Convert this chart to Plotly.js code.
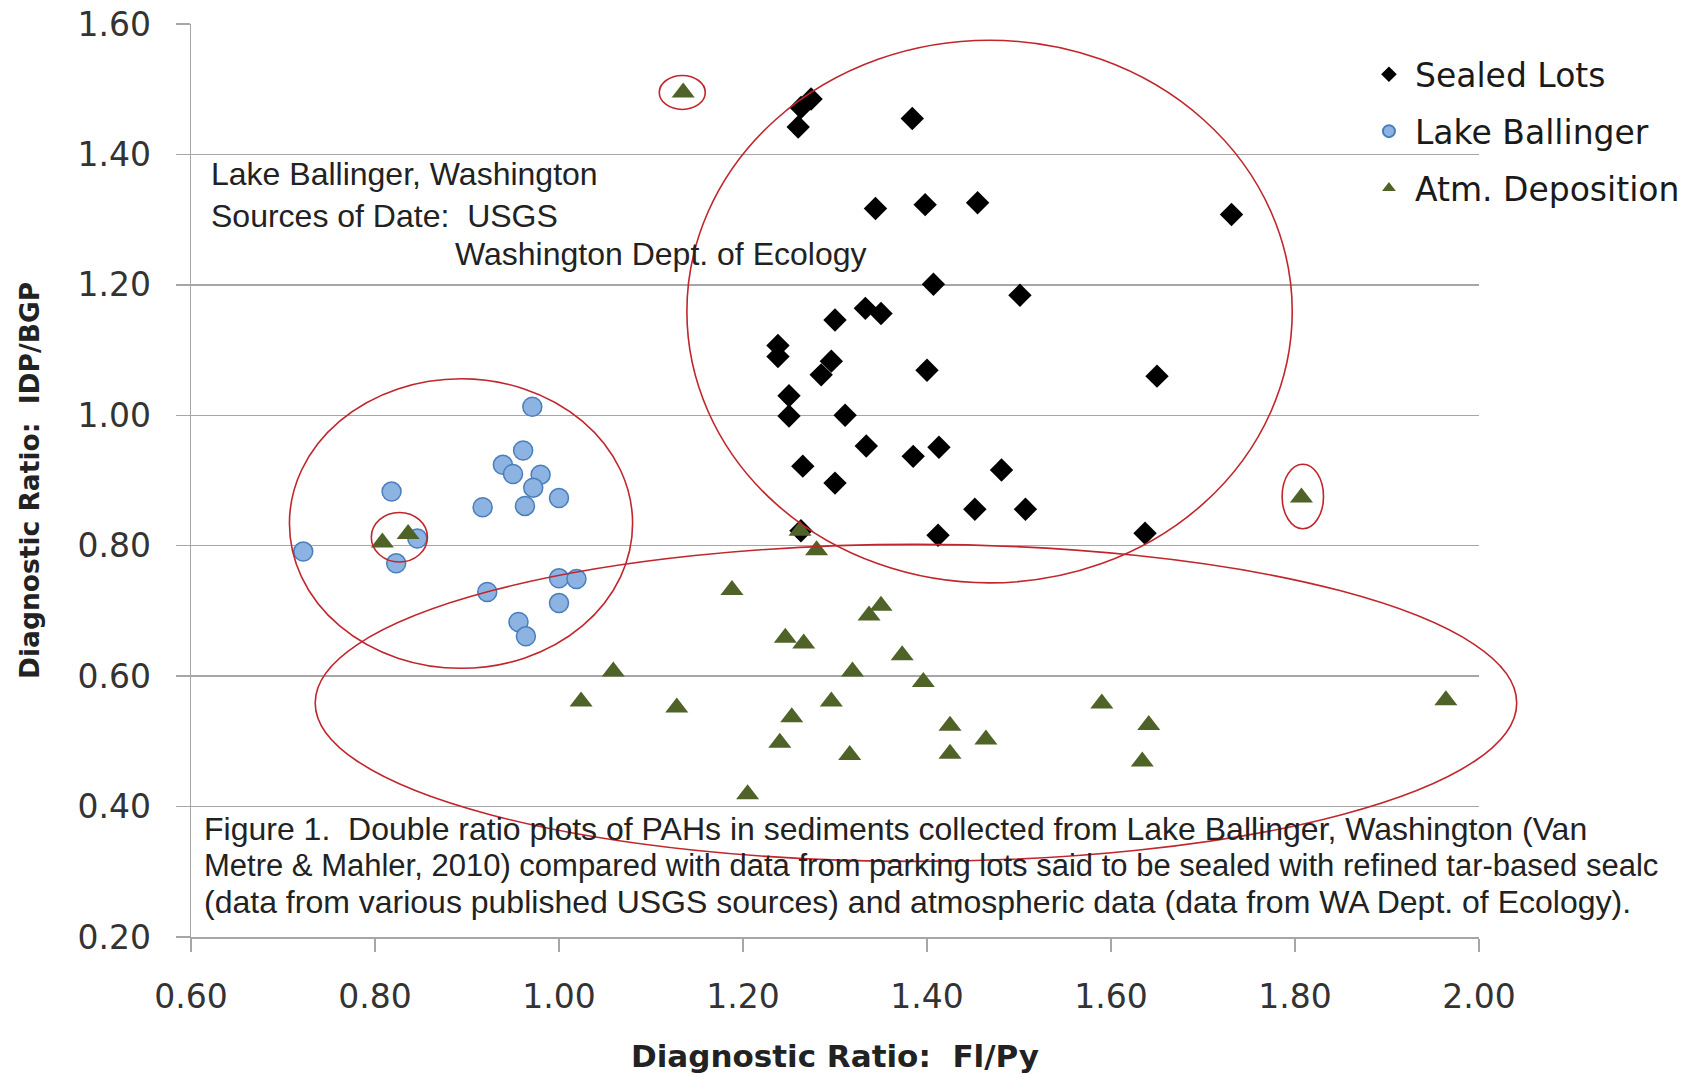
<!DOCTYPE html>
<html>
<head>
<meta charset="utf-8">
<script src="https://cdn.plot.ly/plotly-3.0.1.min.js"></script>
<style>html,body{margin:0;padding:0;background:#ffffff;}</style>
</head>
<body>
<div id="chart" style="width:1701px;height:1074px;"></div>
<script>
// ---------------- data ----------------
const seriesNames = ['Sealed Lots', 'Lake Ballinger', 'Atm. Deposition'];

const sealedX = [1.274, 1.263, 1.260, 1.384, 1.344, 1.398, 1.455, 1.731, 1.407, 1.501,
                 1.300, 1.333, 1.350, 1.238, 1.238, 1.296, 1.285, 1.400, 1.650, 1.250,
                 1.250, 1.311, 1.334, 1.385, 1.413, 1.265, 1.300, 1.481, 1.452, 1.507,
                 1.412, 1.263, 1.637];
const sealedY = [1.485, 1.472, 1.442, 1.455, 1.317, 1.323, 1.326, 1.308, 1.201, 1.184,
                 1.146, 1.164, 1.156, 1.107, 1.090, 1.083, 1.062, 1.069, 1.060, 1.030,
                 0.999, 1.000, 0.953, 0.937, 0.951, 0.922, 0.896, 0.916, 0.856, 0.856,
                 0.816, 0.823, 0.819];

const lakeX = [0.971, 0.961, 0.939, 0.950, 0.980, 0.972, 1.000, 0.963, 0.917, 0.818,
               0.722, 0.846, 0.823, 0.922, 1.000, 1.019, 1.000, 0.956, 0.964];
const lakeY = [1.013, 0.946, 0.924, 0.910, 0.909, 0.889, 0.873, 0.861, 0.859, 0.883,
               0.791, 0.811, 0.773, 0.729, 0.750, 0.749, 0.712, 0.683, 0.661];

const atmX = [1.135, 1.807, 0.808, 0.836, 1.280, 1.262, 1.188, 1.350, 1.337, 1.246,
              1.266, 1.373, 1.059, 1.319, 1.396, 1.024, 1.128, 1.296, 1.253, 1.425,
              1.464, 1.240, 1.316, 1.425, 1.205, 1.590, 1.641, 1.634, 1.964];
const atmY = [1.495, 0.874, 0.805, 0.818, 0.793, 0.823, 0.732, 0.708, 0.693, 0.659,
              0.650, 0.632, 0.607, 0.607, 0.591, 0.561, 0.552, 0.561, 0.537, 0.524,
              0.503, 0.498, 0.479, 0.481, 0.419, 0.558, 0.525, 0.469, 0.563];

const xTickValues = [0.6, 0.8, 1.0, 1.2, 1.4, 1.6, 1.8, 2.0];
const xTickLabels = ['0.60', '0.80', '1.00', '1.20', '1.40', '1.60', '1.80', '2.00'];
const yTickValues = [0.2, 0.4, 0.6, 0.8, 1.0, 1.2, 1.4, 1.6];
const yTickLabels = ['0.20', '0.40', '0.60', '0.80', '1.00', '1.20', '1.40', '1.60'];

const xTitle = 'Diagnostic Ratio:\u00a0 Fl/Py';
const yTitle = 'Diagnostic Ratio:\u00a0 IDP/BGP';
const noteLines = ['Lake Ballinger, Washington', 'Sources of Date:\u00a0 USGS', 'Washington Dept. of Ecology'];
const captionLines = [
  'Figure 1.\u00a0 Double ratio plots of PAHs in sediments collected from Lake Ballinger, Washington (Van',
  'Metre & Mahler, 2010) compared with data from parking lots said to be sealed with refined tar-based sealc',
  '(data from various published USGS sources) and atmospheric data (data from WA Dept. of Ecology).'
];

// ---------------- layout helpers ----------------
const xRange = [0.6, 2.0];
const yRange = [0.2, 1.6];
const px = v => (v - xRange[0]) / (xRange[1] - xRange[0]);
const py = v => (v - yRange[0]) / (yRange[1] - yRange[0]);

// outline ellipses drawn on the figure (in axis units)
const ellipseBoxes = [
  [1.139, 1.797, 0.743, 1.575],
  [0.707, 1.080, 0.612, 1.056],
  [0.796, 0.857, 0.775, 0.851],
  [1.109, 1.159, 1.469, 1.521],
  [1.786, 1.831, 0.826, 0.925],
  [0.735, 2.041, 0.316, 0.802]
];
const ringColor = '#c0262c';
const shapes = ellipseBoxes.map(b => ({
  type: 'circle', xref: 'paper', yref: 'paper',
  x0: px(b[0]), x1: px(b[1]), y0: py(b[2]), y1: py(b[3]),
  line: {color: ringColor, width: 1.6}, fillcolor: 'rgba(0,0,0,0)', layer: 'above'
}));

const noteFont = {family: 'Liberation Sans, Arial, sans-serif', size: 32, color: '#222222'};
const wideLineFont = {family: 'Liberation Sans, Arial, sans-serif', size: 31, color: '#222222'};
const annotations = [
  {text: noteLines[0], x: 0.6205, y: 1.370},
  {text: noteLines[1], x: 0.6205, y: 1.305},
  {text: noteLines[2], x: 0.8858, y: 1.247},
  {text: captionLines[0], x: 0.6135, y: 0.366},
  {text: captionLines[1], x: 0.6135, y: 0.310, font: wideLineFont},
  {text: captionLines[2], x: 0.6135, y: 0.253}
].map(a => Object.assign({
  xref: 'x', yref: 'y', xanchor: 'left', yanchor: 'middle',
  showarrow: false, font: noteFont, borderpad: 0
}, a));

const traces = [
  {
    type: 'scatter', mode: 'markers', name: seriesNames[0], legendgroup: 'g1',
    x: sealedX, y: sealedY,
    marker: {symbol: 'diamond', size: 18, color: '#000000', line: {width: 0}}
  },
  {
    type: 'scatter', mode: 'markers', name: seriesNames[1], legendgroup: 'g2',
    x: lakeX, y: lakeY,
    marker: {symbol: 'circle', size: 19, color: '#8db3e2', line: {color: '#4a7ebb', width: 1.5}}
  },
  {
    type: 'scatter', mode: 'markers', name: seriesNames[2], legendgroup: 'g3',
    x: atmX, y: atmY,
    marker: {symbol: 'triangle-up', size: 20, color: '#4f6228', line: {width: 0}}
  }
];

const axisGray = '#a6a6a6';
const tickFont = {family: 'DejaVu Sans, sans-serif', size: 33, color: '#333333'};

const layout = {
  width: 1701, height: 1074,
  margin: {l: 191, r: 222, t: 24, b: 137, pad: 0},
  paper_bgcolor: '#ffffff', plot_bgcolor: '#ffffff',
  showlegend: true,
  legend: {
    x: 0.9099, y: 0.9756, xanchor: 'left', yanchor: 'top',
    font: {family: 'DejaVu Sans, sans-serif', size: 33, color: '#1a1a1a'},
    bgcolor: 'rgba(0,0,0,0)', borderwidth: 0, itemwidth: 42,
    itemsizing: 'constant', tracegroupgap: 11, traceorder: 'grouped'
  },
  xaxis: {
    range: xRange, tickmode: 'array', tickvals: xTickValues, ticktext: xTickLabels,
    showgrid: false, zeroline: false, showline: true, linecolor: axisGray, linewidth: 1.5,
    ticks: 'outside', ticklen: 13, tickwidth: 1.5, tickcolor: axisGray,
    tickfont: tickFont, ticklabelstandoff: 17, automargin: false,
    title: {text: xTitle, font: {family: 'DejaVu Sans, sans-serif', size: 31, color: '#222222', weight: 'bold'}, standoff: 32}
  },
  yaxis: {
    range: yRange, tickmode: 'array', tickvals: yTickValues, ticktext: yTickLabels,
    showgrid: true, gridcolor: axisGray, gridwidth: 1.5,
    zeroline: false, showline: true, linecolor: axisGray, linewidth: 1.5,
    ticks: 'outside', ticklen: 14, tickwidth: 1.5, tickcolor: axisGray,
    tickfont: tickFont, ticklabelstandoff: 18, automargin: false,
    title: {text: yTitle, font: {family: 'DejaVu Sans, sans-serif', size: 26.5, color: '#222222', weight: 'bold'}, standoff: 30}
  },
  shapes: shapes,
  annotations: annotations
};

Plotly.newPlot('chart', traces, layout, {displayModeBar: false, staticPlot: true});
</script>
</body>
</html>
